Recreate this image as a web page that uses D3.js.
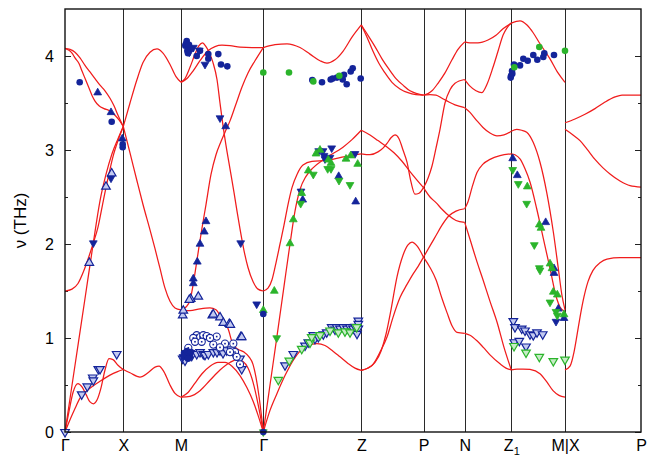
<!DOCTYPE html>
<html><head><meta charset="utf-8">
<script src="https://cdn.jsdelivr.net/npm/d3@7"></script>
<style>
body{margin:0;background:#fff}
text{font-family:"Liberation Sans",Arial,Helvetica,sans-serif;fill:#000}
</style>
</head><body>
<svg id="chart" width="652" height="457"></svg>
<script>
// ---------- axis data ----------
const kTicks  = [0, 0.583, 1.16, 1.983, 2.963, 3.585, 3.997, 4.463, 5.0, 5.76];
const kLabels = ["Γ","X","M","Γ","Z","P","N","Z1","M|X","P"];
const yMajor  = [0,1,2,3,4];
const yMinor  = [0.5,1.5,2.5,3.5];
const yTitle  = "ν (THz)";

// ---------- dispersion branches [k, nu] ----------
const bandsGX = [
  [[0,0],[0.04,0.22],[0.08,0.42],[0.13,0.515],[0.17,0.48],[0.21,0.4],[0.25,0.32],[0.285,0.3],[0.32,0.34],[0.36,0.47],[0.40,0.66],[0.44,0.78],[0.48,0.77],[0.53,0.71],[0.583,0.665]],
  [[0,0],[0.05,0.13],[0.10,0.25],[0.15,0.36],[0.22,0.44],[0.28,0.49],[0.35,0.54],[0.45,0.605],[0.52,0.64],[0.583,0.665]],
  [[0,0],[0.10,0.71],[0.20,1.42],[0.28,1.99],[0.35,2.46],[0.41,2.74],[0.47,2.96],[0.53,3.12],[0.583,3.25]],
  [[0,1.5],[0.07,1.52],[0.13,1.58],[0.19,1.72],[0.24,1.87],[0.28,2.0],[0.33,2.18],[0.383,2.46],[0.43,2.7],[0.48,2.93],[0.53,3.1],[0.583,3.25]],
  [[0,4.08],[0.05,4.07],[0.10,4.04],[0.15,3.98],[0.20,3.9],[0.25,3.83],[0.30,3.76],[0.35,3.69],[0.40,3.63],[0.45,3.55],[0.49,3.47],[0.53,3.37],[0.583,3.25]],
  [[0,4.08],[0.04,4.06],[0.07,4.03],[0.10,3.98],[0.14,3.92],[0.17,3.84],[0.203,3.755],[0.24,3.66],[0.27,3.58],[0.30,3.52],[0.34,3.47],[0.39,3.44],[0.44,3.42],[0.50,3.37],[0.54,3.32],[0.583,3.25]]
];
const bandsXM = [
  [[0.583,0.665],[0.65,0.63],[0.75,0.585],[0.83,0.63],[0.90,0.69],[0.94,0.70],[0.99,0.64],[1.05,0.5],[1.10,0.41],[1.16,0.37]],
  [[0.583,3.25],[0.65,2.97],[0.72,2.67],[0.78,2.42],[0.85,2.15],[0.90,1.95],[0.95,1.74],[1.00,1.53],[1.05,1.39],[1.10,1.32],[1.16,1.3]],
  [[0.583,3.25],[0.65,3.5],[0.72,3.75],[0.78,3.93],[0.85,4.04],[0.92,4.075],[0.98,4.03],[1.05,3.91],[1.11,3.78],[1.16,3.72]]
];
const bandsMG = [
  [[1.16,3.72],[1.20,3.76],[1.25,3.88],[1.30,4.02],[1.34,4.11],[1.375,4.14],[1.41,4.1],[1.45,4.02],[1.48,3.93],[1.52,3.75],[1.55,3.5],[1.58,3.26],[1.61,3.05],[1.65,2.8],[1.69,2.55],[1.72,2.35],[1.75,2.16],[1.79,1.93],[1.83,1.75],[1.88,1.6],[1.93,1.52],[1.983,1.5]],
  [[1.16,3.72],[1.22,3.76],[1.28,3.84],[1.35,3.95],[1.43,4.055],[1.50,4.1],[1.57,4.115],[1.65,4.11],[1.75,4.095],[1.87,4.09],[1.983,4.09]],
  [[1.16,1.3],[1.21,1.33],[1.25,1.4],[1.28,1.56],[1.31,1.76],[1.34,1.97],[1.37,2.17],[1.41,2.42],[1.46,2.74],[1.51,2.95],[1.56,3.09],[1.60,3.19],[1.65,3.31],[1.71,3.49],[1.77,3.67],[1.83,3.82],[1.90,3.95],[1.983,4.09]],
  [[1.16,1.3],[1.25,1.29],[1.35,1.31],[1.45,1.32],[1.51,1.3],[1.57,1.2],[1.63,1.1],[1.68,0.93],[1.73,0.88],[1.79,0.85],[1.84,0.8],[1.88,0.72],[1.91,0.58],[1.94,0.38],[1.965,0.17],[1.983,0]],
  [[1.16,0.37],[1.23,0.42],[1.30,0.52],[1.37,0.62],[1.45,0.7],[1.53,0.74],[1.60,0.74],[1.67,0.7],[1.75,0.6],[1.82,0.47],[1.88,0.33],[1.93,0.18],[1.983,0]],
  [[1.16,0.37],[1.25,0.38],[1.35,0.44],[1.45,0.55],[1.55,0.66],[1.65,0.74],[1.72,0.77],[1.78,0.75],[1.83,0.68],[1.88,0.53],[1.93,0.3],[1.983,0]]
];
const bandsGZ = [
  [[1.983,4.09],[2.10,4.12],[2.22,4.13],[2.35,4.09],[2.45,4.02],[2.55,3.95],[2.62,3.925],[2.70,3.96],[2.78,4.05],[2.87,4.2],[2.963,4.33]],
  [[1.983,1.5],[2.03,1.53],[2.07,1.62],[2.11,1.8],[2.15,2.0],[2.19,2.2],[2.23,2.42],[2.27,2.6],[2.32,2.74],[2.38,2.84],[2.47,2.88],[2.62,2.89],[2.80,2.93],[2.963,2.96]],
  [[1.983,0],[2.05,0.5],[2.12,1.02],[2.19,1.55],[2.25,2.0],[2.30,2.35],[2.35,2.58],[2.41,2.72],[2.48,2.81],[2.60,2.91],[2.78,3.03],[2.87,3.11],[2.963,3.21]],
  [[1.983,0],[2.05,0.23],[2.12,0.41],[2.20,0.6],[2.28,0.76],[2.35,0.86],[2.43,0.92],[2.52,0.94],[2.60,0.92],[2.68,0.86],[2.75,0.8],[2.83,0.73],[2.90,0.68],[2.963,0.655]]
];
const bandsZP = [
  [[2.963,4.33],[3.02,4.2],[3.08,4.05],[3.14,3.92],[3.20,3.82],[3.27,3.72],[3.35,3.65],[3.43,3.61],[3.51,3.59],[3.585,3.585]],
  [[2.963,4.33],[3.03,4.22],[3.10,4.1],[3.17,3.97],[3.24,3.86],[3.31,3.76],[3.38,3.69],[3.45,3.63],[3.52,3.6],[3.585,3.585]],
  [[2.963,3.21],[3.05,3.16],[3.13,3.1],[3.21,3.04],[3.29,2.97],[3.37,2.88],[3.45,2.77],[3.52,2.68],[3.585,2.6]],
  [[2.963,2.96],[3.05,2.95],[3.13,2.98],[3.18,3.02],[3.22,3.07],[3.26,3.13],[3.30,3.16],[3.34,3.12],[3.38,3.0],[3.42,2.87],[3.46,2.66],[3.50,2.53],[3.54,2.54],[3.585,2.6]],
  [[2.963,0.655],[3.03,0.68],[3.10,0.74],[3.16,0.86],[3.21,1.04],[3.26,1.3],[3.32,1.65],[3.38,1.88],[3.43,1.99],[3.47,2.02],[3.52,1.98],[3.585,1.86]],
  [[2.963,0.655],[3.03,0.68],[3.08,0.72],[3.15,0.85],[3.22,1.01],[3.28,1.22],[3.35,1.43],[3.42,1.57],[3.48,1.68],[3.53,1.76],[3.585,1.86]]
];
const bandsPN = [
  [[3.585,3.585],[3.65,3.59],[3.71,3.585],[3.77,3.55],[3.84,3.51],[3.90,3.48],[3.997,3.45]],
  [[3.585,3.585],[3.63,3.6],[3.67,3.63],[3.73,3.71],[3.80,3.82],[3.87,3.96],[3.93,4.07],[3.997,4.15]],
  [[3.585,2.6],[3.63,2.7],[3.67,2.83],[3.71,3.02],[3.75,3.22],[3.80,3.5],[3.85,3.64],[3.90,3.71],[3.997,3.75]],
  [[3.585,2.6],[3.65,2.5],[3.71,2.44],[3.77,2.37],[3.84,2.3],[3.91,2.25],[3.997,2.23]],
  [[3.585,1.86],[3.65,1.98],[3.71,2.09],[3.77,2.2],[3.84,2.3],[3.91,2.35],[3.997,2.375]],
  [[3.585,1.86],[3.65,1.75],[3.71,1.62],[3.77,1.42],[3.82,1.27],[3.87,1.13],[3.92,1.06],[3.997,1.05]]
];
const bandsNZ1 = [
  [[3.997,4.15],[4.05,4.14],[4.13,4.14],[4.23,4.17],[4.31,4.22],[4.38,4.29],[4.463,4.35]],
  [[3.997,3.75],[4.05,3.68],[4.11,3.63],[4.167,3.61],[4.22,3.7],[4.28,3.88],[4.33,4.05],[4.38,4.22],[4.42,4.3],[4.463,4.35]],
  [[3.997,3.45],[4.05,3.4],[4.12,3.31],[4.18,3.24],[4.25,3.18],[4.32,3.15],[4.39,3.16],[4.463,3.2]],
  [[3.997,2.375],[4.03,2.45],[4.07,2.6],[4.12,2.76],[4.18,2.85],[4.25,2.9],[4.35,2.94],[4.463,2.96]],
  [[3.997,2.23],[4.05,2.05],[4.12,1.81],[4.18,1.62],[4.25,1.39],[4.32,1.17],[4.39,0.9],[4.463,0.66]],
  [[3.997,1.05],[4.05,1.03],[4.12,0.97],[4.183,0.9],[4.25,0.82],[4.35,0.725],[4.41,0.68],[4.463,0.66]]
];
const bandsZ1M = [
  [[4.463,4.35],[4.55,4.375],[4.62,4.33],[4.68,4.25],[4.75,4.13],[4.85,3.97],[4.93,3.82],[5.0,3.72]],
  [[4.463,3.2],[4.517,3.22],[4.567,3.21],[4.617,3.19],[4.683,3.08],[4.75,2.87],[4.817,2.55],[4.883,2.13],[4.933,1.74],[4.97,1.45],[5.0,1.3]],
  [[4.463,2.96],[4.50,2.95],[4.55,2.905],[4.60,2.8],[4.65,2.66],[4.717,2.375],[4.783,2.06],[4.85,1.74],[4.917,1.42],[4.95,1.33],[5.0,1.28]],
  [[4.463,0.66],[4.52,0.67],[4.58,0.67],[4.65,0.665],[4.75,0.62],[4.82,0.53],[4.88,0.44],[4.94,0.39],[5.0,0.37]]
];
const bandsXP = [
  [[5.0,3.29],[5.1,3.33],[5.2,3.38],[5.3,3.44],[5.4,3.51],[5.5,3.565],[5.57,3.585],[5.76,3.585]],
  [[5.0,3.22],[5.08,3.16],[5.15,3.1],[5.22,3.01],[5.3,2.9],[5.38,2.81],[5.45,2.745],[5.55,2.67],[5.65,2.62],[5.76,2.605]],
  [[5.0,0.66],[5.05,0.7],[5.09,0.85],[5.12,1.03],[5.15,1.22],[5.18,1.39],[5.23,1.6],[5.28,1.72],[5.35,1.8],[5.42,1.84],[5.55,1.855],[5.76,1.855]]
];

// ---------- measured points [k, nu] ----------
const blueCircles = [
  [0.147,3.72],[0.467,3.30],[0.577,3.06],[0.577,3.03],
  [1.217,4.16],[1.203,4.11],[1.223,4.055],[1.26,4.08],[1.21,4.13],[1.24,4.12],[1.23,4.03],[1.317,4.0],[1.35,4.055],[1.433,4.02],[1.433,3.97],[1.533,4.02],[1.56,3.91],[1.623,3.89],
  [1.19,0.84],[1.20,0.80],[1.21,0.82],[1.22,0.86],[1.24,0.83],[1.25,0.80],[1.23,0.78],[1.26,0.85],
  [1.983,1.255],[1.983,0.0],
  [2.473,3.745],[2.57,3.72],[2.657,3.75],[2.677,3.76],[2.72,3.77],[2.777,3.75],[2.79,3.80],[2.817,3.70],[2.857,3.835],[2.877,3.87],[2.957,3.76],
  [4.457,3.77],[4.46,3.79],[4.47,3.84],[4.473,3.81],[4.49,3.91],[4.55,3.90],[4.583,3.97],[4.627,3.95],[4.683,4.01],[4.723,3.96],[4.783,3.99],[4.793,4.03],[4.89,4.01]
];
const blueUp = [
  [0.327,3.61],[0.46,3.40],[0.573,3.12],
  [1.41,2.24],[1.393,2.13],[1.35,2.0],[1.323,1.81],[1.283,1.63],[1.283,1.58],[1.607,3.25],
  [2.737,2.72],[2.377,2.47],[2.907,2.45],
  [4.477,2.91],[4.523,2.73],[4.807,2.23],[4.89,1.74],[4.89,1.69],[4.933,1.31],[4.99,1.21]
];
const blueDown = [
  [0.283,2.01],[0.46,2.70],
  [1.243,4.04],[1.283,4.09],[1.343,4.06],[1.40,3.91],
  [1.55,3.34],[1.757,2.01],[1.917,1.36],
  [1.18,0.80],[1.215,0.83],
  [2.537,2.99],[2.58,2.99],[2.667,3.02],[2.59,2.94],[2.60,2.905],[2.65,2.92],[2.90,2.96],[2.36,2.56],
  [4.91,1.175]
];
const blueUpOpen = [
  [0.243,1.80],[0.467,2.75],[0.41,2.61],
  [1.177,1.24],[1.183,1.29],[1.257,1.415],[1.243,1.405],[1.333,1.44],[1.473,1.24],[1.483,1.25],[1.55,1.22],[1.583,1.16],[1.643,1.15],[1.653,1.14],[1.757,1.01],[1.767,1.01]
];
const blueDownOpen = [
  [0,0],[0.167,0.40],[0.223,0.485],[0.277,0.58],[0.283,0.55],[0.333,0.67],[0.35,0.67],[0.517,0.83],
  [1.177,0.78],[1.20,0.76],[1.217,0.83],[1.25,0.84],[1.267,0.81],[1.317,0.83],[1.35,0.85],[1.383,0.83],[1.40,0.82],[1.433,0.83],[1.483,0.85],[1.52,0.85],[1.55,0.87],[1.58,0.84],[1.617,0.87],[1.66,0.88],[1.683,0.85],[1.75,0.78],[1.767,0.67],
  [2.20,0.71],[2.283,0.83],[2.40,0.92],[2.433,0.955],[2.483,1.03],[2.50,0.99],[2.533,1.01],[2.583,1.04],[2.617,1.06],[2.667,1.115],[2.70,1.09],[2.717,1.115],[2.75,1.1],[2.783,1.115],[2.82,1.1],[2.85,1.115],[2.88,1.1],[2.90,1.12],[2.933,1.185],[2.933,1.15],[2.933,1.1],[2.92,1.045],
  [4.483,1.18],[4.50,1.115],[4.567,1.10],[4.60,1.08],[4.65,1.04],[4.683,1.03],[4.72,1.06],[4.777,1.04],[4.493,0.955],[4.543,0.97],[4.61,0.91]
];
const blueCirclesOpen = [
  [1.317,1.03],[1.35,1.01],[1.383,1.03],[1.417,1.02],[1.517,1.015],[1.483,0.93],[1.233,0.895],[1.683,0.94],[1.70,0.85],[1.717,0.80],[1.75,0.72],
  [1.283,1.0],[1.45,1.0],[1.30,0.96],[1.367,0.96],[1.60,0.94],[1.65,0.85],[1.55,0.90]
];
const greenCircles = [
  [1.983,3.825],[2.24,3.825],[2.483,3.73],[2.743,3.79],[4.493,3.88],[4.743,4.095],[5.0,4.055]
];
const greenUp = [
  [1.983,1.295],[2.093,1.50],[2.25,2.005],[2.283,2.26],[2.367,2.54],[2.433,2.78],[2.51,2.96],[2.55,3.0],[2.633,2.895],[2.66,2.86],[2.81,2.905],[2.857,2.94],[2.927,2.85],
  [4.623,2.61],[4.743,2.205],[4.76,2.17],[4.85,1.79],[4.87,1.74],[4.883,1.49],[4.923,1.46],[4.99,1.25]
];
const greenDown = [
  [1.983,0.0],[2.117,1.00],[2.357,2.43],[2.483,2.74],[2.627,2.80],[2.66,2.80],[2.74,2.675],[2.85,2.63],
  [4.477,2.79],[4.533,2.64],[4.617,2.43],[4.693,1.99],[4.743,1.745],[4.75,1.72],[4.85,1.38],[4.91,1.28],[4.923,1.24]
];
const greenDownOpen = [
  [2.133,0.555],[2.243,0.76],[2.367,0.885],[2.45,0.95],[2.467,1.01],[2.55,1.03],[2.65,1.08],[2.733,1.06],[2.80,1.07],[2.85,1.06],[2.917,1.115],
  [4.49,0.915],[4.61,0.845],[4.743,0.80],[4.883,0.755],[5.0,0.77]
];

// ---------- drawing ----------
const svg = d3.select("#chart");
const x = d3.scaleLinear().domain([0, 5.76]).range([65, 641]);
const y = d3.scaleLinear().domain([0, 4.5]).range([432, 9]);

const BLUE = "#14249a", GREEN = "#2bb42b", RED = "#f01c1c";

// high-symmetry vertical lines
svg.append("g").selectAll("line")
  .data(kTicks.slice(1, -1)).join("line")
  .attr("x1", d => Math.round(x(d)) + 0.5).attr("x2", d => Math.round(x(d)) + 0.5)
  .attr("y1", y(4.5)).attr("y2", y(0))
  .attr("stroke", "#2a2a2a").attr("stroke-width", 1);

// y axes (ticks inward)
const gL = svg.append("g").attr("transform", `translate(${x(0)},0)`)
  .call(d3.axisLeft(y).tickValues(yMajor).tickSize(-6).tickPadding(11).tickFormat(d3.format("d")));
const gLm = svg.append("g").attr("transform", `translate(${x(0)},0)`)
  .call(d3.axisLeft(y).tickValues(yMinor).tickSize(-3).tickFormat(""));
const gR = svg.append("g").attr("transform", `translate(${x(5.76)},0)`)
  .call(d3.axisRight(y).tickValues(yMajor).tickSize(-6).tickFormat(""));
const gRm = svg.append("g").attr("transform", `translate(${x(5.76)},0)`)
  .call(d3.axisRight(y).tickValues(yMinor).tickSize(-3).tickFormat(""));
[gL, gLm, gR, gRm].forEach(g => {
  g.select(".domain").remove();
  g.selectAll("line").attr("stroke", "#222");
});
gL.selectAll("text").attr("font-size", 16).attr("font-family", "Liberation Sans, Arial, sans-serif").attr("fill", "#000");

// x axis labels
const gX = svg.append("g").attr("transform", `translate(0,${y(0)})`)
  .call(d3.axisBottom(x).tickValues(kTicks).tickSize(0).tickPadding(8).tickFormat((d, i) => kLabels[i]));
gX.select(".domain").remove();
gX.selectAll("text").attr("font-size", 16).attr("font-family", "Liberation Sans, Arial, sans-serif").attr("fill", "#000")
  .each(function(d, i) {
    if (kLabels[i] === "Z1") {
      const t = d3.select(this);
      t.text("Z");
      t.append("tspan").attr("font-size", 11).attr("dy", "0.3em").text("1");
    }
  });

// y title
svg.append("text")
  .attr("transform", `translate(26,${(y(0) + y(4.5)) / 2}) rotate(-90)`)
  .attr("text-anchor", "middle").attr("font-size", 17).text(yTitle);

// dispersion curves
const line = d3.line().x(d => x(d[0])).y(d => y(d[1])).curve(d3.curveMonotoneX);
const allBands = [].concat(bandsGX, bandsXM, bandsMG, bandsGZ, bandsZP, bandsPN, bandsNZ1, bandsZ1M, bandsXP);
svg.append("g").selectAll("path").data(allBands).join("path")
  .attr("d", line).attr("fill", "none").attr("stroke", RED).attr("stroke-width", 1.25);

// markers
const triUp = d3.symbol().type(d3.symbolTriangle);
function tri(data, down, fill, stroke, size, sw) {
  svg.append("g").selectAll("path").data(data).join("path")
    .attr("d", triUp.size(size)())
    .attr("transform", d => `translate(${x(d[0])},${y(d[1])})` + (down ? " rotate(180)" : ""))
    .attr("fill", fill).attr("stroke", stroke).attr("stroke-width", sw);
}
tri(blueUpOpen, false, "#c3caf0", BLUE, 32, 1.2);
tri(blueDownOpen, true, "#c3caf0", BLUE, 32, 1.2);
tri(greenDownOpen, true, "#c6ecc6", GREEN, 32, 1.2);

const gOC = svg.append("g");
gOC.selectAll("circle").data(blueCirclesOpen).join("circle")
  .attr("cx", d => x(d[0])).attr("cy", d => y(d[1])).attr("r", 3.6)
  .attr("fill", "#fff").attr("stroke", BLUE).attr("stroke-width", 1.1);
gOC.selectAll("rect").data(blueCirclesOpen).join("rect")
  .attr("x", d => x(d[0]) - 0.8).attr("y", d => y(d[1]) - 0.8).attr("width", 1.6).attr("height", 1.6)
  .attr("fill", BLUE);

tri(blueUp, false, BLUE, BLUE, 26, 0.8);
tri(blueDown, true, BLUE, BLUE, 26, 0.8);
tri(greenUp, false, GREEN, GREEN, 26, 0.8);
tri(greenDown, true, GREEN, GREEN, 26, 0.8);

svg.append("g").selectAll("circle").data(blueCircles).join("circle")
  .attr("cx", d => x(d[0])).attr("cy", d => y(d[1])).attr("r", 3.3).attr("fill", BLUE);
svg.append("g").selectAll("circle").data(greenCircles).join("circle")
  .attr("cx", d => x(d[0])).attr("cy", d => y(d[1])).attr("r", 3.3).attr("fill", GREEN);

// frame
svg.append("rect")
  .attr("x", x(0)).attr("y", y(4.5))
  .attr("width", x(5.76) - x(0)).attr("height", y(0) - y(4.5))
  .attr("fill", "none").attr("stroke", "#111").attr("stroke-width", 1.4);
</script>
</body></html>
